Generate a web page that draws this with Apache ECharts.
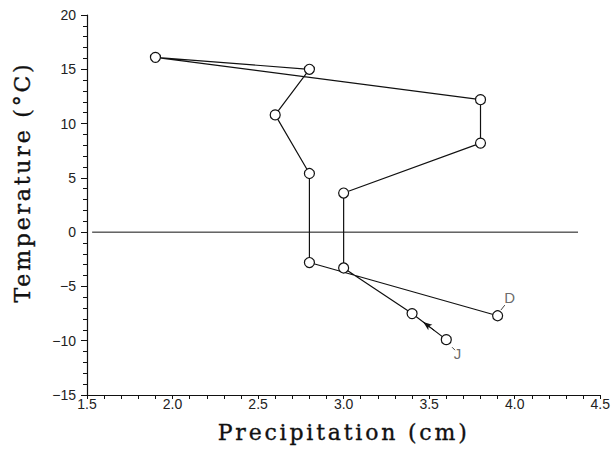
<!DOCTYPE html>
<html>
<head>
<meta charset="utf-8">
<script src="https://cdn.jsdelivr.net/npm/echarts@6/dist/echarts.min.js"></script>
<style>
html,body{margin:0;padding:0;background:#fff;}
#c{width:613px;height:452px;}
#c text[style*="Serif"], #c text[font-family*="Serif"]{letter-spacing:2.8px;stroke:#111;stroke-width:0.35px;}
</style>
</head>
<body>
<div id="c"></div>
<script>
// Monthly climate data, January to December
const months = ['J','F','M','A','M','J','J','A','S','O','N','D'];
const precipitation = [3.6, 3.4, 3.0, 3.0, 3.8, 3.8, 1.9, 2.8, 2.6, 2.8, 2.8, 3.9];
const temperature = [-9.9, -7.5, -3.3, 3.6, 8.2, 12.2, 16.1, 15.0, 10.8, 5.4, -2.8, -7.7];
// Zero reference line extent (precipitation units)
const zeroLineX = [1.53, 4.37];
// Direction arrow near January (data units)
const arrowFrom = [3.53, -9.06];
const arrowTo = [3.465, -8.28];
// Month annotations (data units) and their leader segments
const noteLabels = ['J', 'D'];
const notePos = [[3.665, -11.15], [3.97, -6.05]];
const noteLeaders = [[[3.634, -10.6], [3.651, -10.87]], [[3.919, -7.18], [3.942, -6.72]]];
const xTicks = [1.5, 2.0, 2.5, 3.0, 3.5, 4.0, 4.5];
const yTicks = [-15, -10, -5, 0, 5, 10, 15, 20];

const chart = echarts.init(document.getElementById('c'), null, {renderer: 'svg'});
const pts = precipitation.map((p, i) => [p, temperature[i]]);
const black = '#111';
chart.setOption({
  animation: false,
  grid: {left: 87, right: 10, top: 15, bottom: 57},
  xAxis: {
    type: 'value', min: xTicks[0], max: xTicks[xTicks.length-1], interval: 0.5,
    name: 'Precipitation (cm)', nameLocation: 'middle', nameGap: 26,
    nameTextStyle: {fontFamily: 'DejaVu Serif', fontSize: 22, color: black},
    axisLine: {show: true, onZero: false, lineStyle: {color: black, width: 1.2}},
    axisTick: {show: true, length: 4, lineStyle: {color: black}},
    minorTick: {show: true, splitNumber: 5, length: 4, lineStyle: {color: black}},
    axisLabel: {fontFamily: 'Liberation Sans', fontSize: 14, color: '#222', margin: 2,
      formatter: v => v.toFixed(1)},
    splitLine: {show: false}
  },
  yAxis: {
    type: 'value', min: yTicks[0], max: yTicks[yTicks.length-1], interval: 5,
    name: 'Temperature (°C)', nameLocation: 'middle', nameGap: 54,
    nameTextStyle: {fontFamily: 'DejaVu Serif', fontSize: 22, color: black,
      padding: [0, 0, 0, 46]},
    axisLine: {show: true, onZero: false, lineStyle: {color: black, width: 1.2}},
    axisTick: {show: true, length: 6, lineStyle: {color: black}},
    minorTick: {show: true, splitNumber: 5, length: 4, lineStyle: {color: black}},
    axisLabel: {fontFamily: 'Liberation Sans', fontSize: 14, color: '#222', margin: 11,
      formatter: v => String(v).replace('-', '\u2212')},
    splitLine: {show: false}
  },
  series: [
    {
      type: 'line', data: zeroLineX.map(x => [x, 0]), symbol: 'none',
      lineStyle: {color: black, width: 1}, silent: true
    },
    {
      type: 'line', data: pts, symbol: 'circle', symbolSize: 10,
      itemStyle: {color: '#fff', borderColor: black, borderWidth: 1.2},
      lineStyle: {color: black, width: 1.2},
      markLine: {
        silent: true, symbolSize: [5, 9],
        lineStyle: {color: black, width: 1, type: 'solid'},
        label: {show: false},
        data: [
          [{coord: arrowFrom, symbol: 'none'}, {coord: arrowTo, symbol: 'arrow'}]
        ].concat(noteLeaders.map(s => [
          {coord: s[0], symbol: 'none', lineStyle: {color: '#444'}},
          {coord: s[1], symbol: 'none'}
        ]))
      }
    },
    {
      type: 'scatter', symbolSize: 0, silent: true,
      data: notePos.map((p, i) => ({value: p, name: noteLabels[i]})),
      label: {show: true, position: 'inside', formatter: '{b}',
        fontFamily: 'Liberation Sans', fontSize: 15, color: '#444'}
    }
  ]
});
</script>
</body>
</html>
